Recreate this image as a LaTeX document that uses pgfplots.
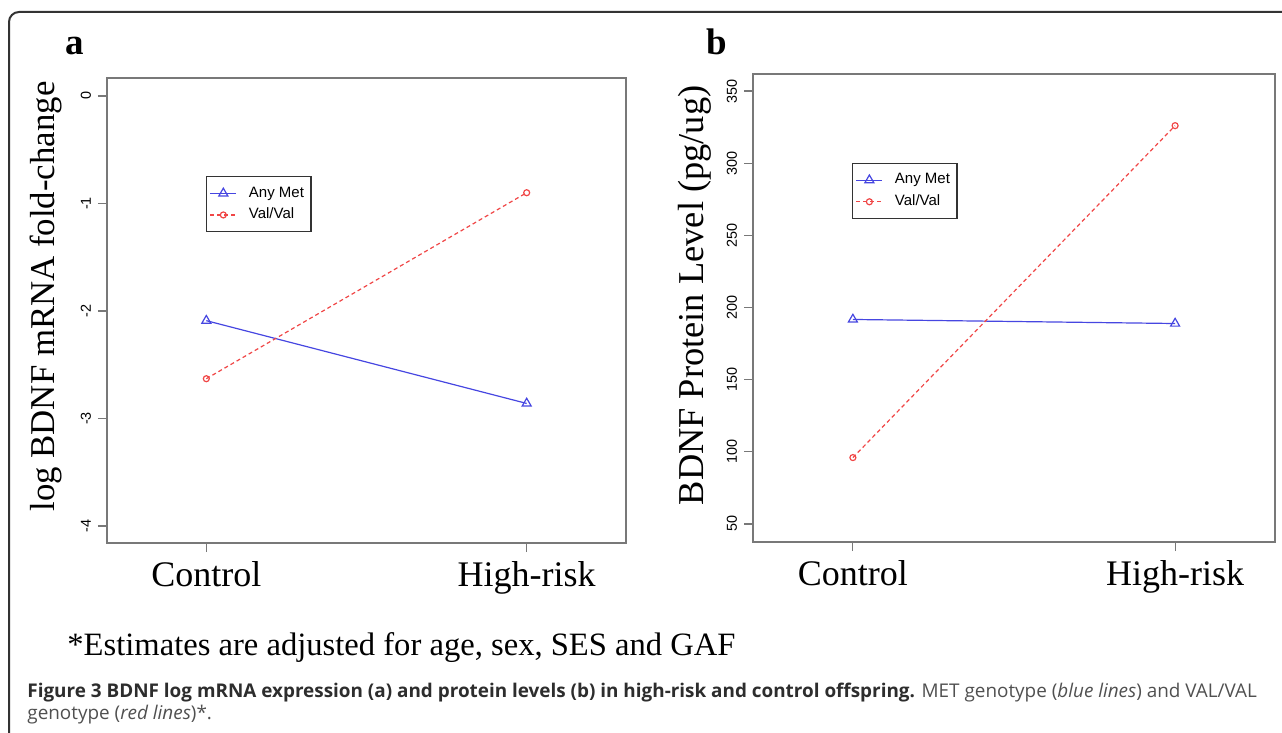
\documentclass[border=0pt]{standalone}
\usepackage{pgfplots}
\pgfplotsset{compat=1.18}
\usepackage{fontspec}
\setmainfont{Liberation Serif}
\newfontfamily\sansf{Liberation Sans}
\newfontfamily\capf{Open Sans}
\definecolor{mblue}{RGB}{70,70,225}
\definecolor{mred}{RGB}{240,70,70}
\definecolor{axgray}{RGB}{120,120,120}
\definecolor{capdark}{RGB}{45,45,45}
\definecolor{capgray}{RGB}{80,80,80}
\pgfplotsset{rstyle/.style={
  scale only axis, anchor=south west,
  axis line style={axgray, line width=0.7pt},
  every tick/.style={axgray, line width=0.6pt},
  tick align=outside, major tick length=4.5pt,
  tick pos=left,
  xmin=-0.31, xmax=1.31, xtick={0,1}, xticklabels={Control,High-risk},
  xticklabel style={font=\fontsize{18}{20}\selectfont, anchor=base, yshift=-17pt},
  yticklabel style={font=\sansf\fontsize{7.2}{8}\selectfont, rotate=90, anchor=south},
  /pgf/number format/assume math mode=true,
  legend image code/.code={\draw[mark repeat=2,mark phase=2,##1] plot coordinates {(0pt,0pt)(6.5pt,0pt)(13pt,0pt)};},
  legend cell align=left,
  legend style={draw=black!80, line width=0.6pt, font=\sansf\fontsize{7.5}{9}\selectfont, anchor=north west, inner xsep=1.5pt, inner ysep=3pt, row sep=0pt, cells={anchor=west},
    /tikz/every odd column/.append style={column sep=4pt}},
  ylabel style={anchor=base},
  met/.style={mblue, line width=0.6pt, mark=triangle, mark size=2.6pt, mark options={solid}},
  val/.style={mred, line width=0.6pt, dash pattern=on 2pt off 1.5pt, mark=o, mark size=1.5pt, mark options={solid}},
}}
\begin{document}
\begin{tikzpicture}
\useasboundingbox (0,0) rectangle (641pt,-366.5pt);
\draw[line width=1pt, black!80, rounded corners=5pt] (4.5pt,-390pt) -- (4.5pt,-6pt) -- (700pt,-6pt);
\node[anchor=base west, font=\bfseries\fontsize{18.5}{20}\selectfont, inner sep=0pt] at (32.5pt,-27.5pt) {a};
\node[anchor=base west, font=\bfseries\fontsize{18.5}{20}\selectfont, inner sep=0pt] at (353pt,-27.5pt) {b};
\begin{axis}[rstyle, at={(53.5pt,-271.5pt)}, width=259.5pt, height=232.5pt,
  ymin=-4.158, ymax=0.167, ytick={-4,-3,-2,-1,0},
  ylabel={log BDNF mRNA fold-change},
  ylabel style={at={(axis description cs:-0.1002,0.530)}, font=\fontsize{17.4}{19}\selectfont},
  legend style={at={(0.191,0.789)}}]
\addplot[met] coordinates {(0,-2.09) (1,-2.86)};
\addlegendentry{Any Met}
\addplot[val] coordinates {(0,-2.63) (1,-0.90)};
\addlegendentry{Val/Val}
\end{axis}
\begin{axis}[rstyle, at={(376.5pt,-271pt)}, width=261pt, height=234pt,
  ymin=37.5, ymax=361.8, ytick={50,100,...,350},
  ylabel={BDNF Protein Level (pg/ug)},
  ylabel style={at={(axis description cs:-0.0948,0.527)}, font=\fontsize{18.2}{20}\selectfont},
  legend style={at={(0.19,0.81)}}]
\addplot[met] coordinates {(0,191.7) (1,188.9)};
\addlegendentry{Any Met}
\addplot[val] coordinates {(0,96) (1,326)};
\addlegendentry{Val/Val}
\end{axis}
\node[anchor=base west, inner sep=0pt, font=\fontsize{16.3}{18}\selectfont] at (33.5pt,-327.5pt) {*Estimates are adjusted for age, sex, SES and GAF};
\node[anchor=base west, inner sep=0pt, font=\capf\fontsize{9.45}{11}\selectfont, text=capgray] at (13.5pt,-348.5pt) {\textcolor{capdark}{\bfseries Figure 3 BDNF log mRNA expression (a) and protein levels (b) in high-risk and control offspring.} MET genotype (\textit{blue lines}) and VAL/VAL};
\node[anchor=base west, inner sep=0pt, font=\capf\fontsize{9.45}{11}\selectfont, text=capgray] at (13.5pt,-359.5pt) {genotype (\textit{red lines})*.};
\end{tikzpicture}
\end{document}
